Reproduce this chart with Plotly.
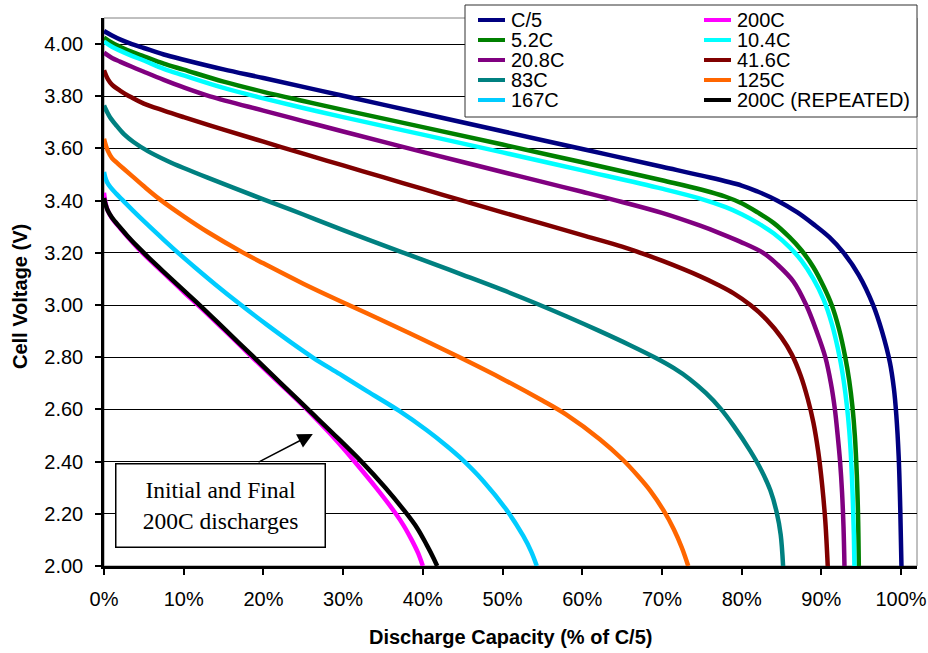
import plotly.graph_objects as go

# ---- discharge curves: capacity (% of C/5) vs cell voltage (V) ----
series_names = ["C/5", "200C", "5.2C", "10.4C", "20.8C",
                "41.6C", "83C", "125C", "167C", "200C (REPEATED)"]
series_colors = ["#000080", "#FF00FF", "#008000", "#00FFFF", "#800080",
                 "#800000", "#008080", "#FF6600", "#00CCFF", "#000000"]

cap_c5 = [0, 1, 2, 3.5, 5, 7.5, 10, 15, 20, 30, 40, 50, 60, 70, 75, 80, 82, 84.5,
          87, 89, 91, 92.8, 94.7, 96.5, 97.6, 98.6, 99.1, 99.4, 99.7, 99.9, 100.05]
v_c5 = [4.05, 4.033, 4.018, 4.0, 3.985, 3.96, 3.94, 3.903, 3.870, 3.802, 3.734,
        3.666, 3.598, 3.530, 3.496, 3.458, 3.435, 3.40, 3.355, 3.31, 3.26, 3.20,
        3.115, 3.00, 2.90, 2.78, 2.68, 2.58, 2.42, 2.22, 2.00]

cap_200 = [0, 0.2, 0.5, 1, 2, 3, 4.5, 6, 8, 10, 12, 15.4, 18.7, 22.2, 24, 26,
           28.3, 30, 31.3, 34, 36.5, 37.6, 38.6, 39.4, 40.0]
v_200 = [3.43, 3.39, 3.36, 3.333, 3.295, 3.26, 3.21, 3.165, 3.108, 3.05, 2.994,
         2.895, 2.797, 2.695, 2.643, 2.583, 2.51, 2.452, 2.405, 2.305, 2.205,
         2.155, 2.10, 2.05, 2.00]

cap_52 = [0, 1, 2, 3.5, 5, 7.5, 10, 15, 20, 25, 30, 40, 50, 60, 70, 75, 78, 80,
          82, 84, 86, 87.5, 89, 90.3, 91.3, 92.2, 93, 93.5, 93.9, 94.2, 94.45,
          94.6, 94.7]
v_52 = [4.025, 4.005, 3.99, 3.97, 3.953, 3.925, 3.902, 3.856, 3.817, 3.782, 3.748,
        3.682, 3.615, 3.547, 3.478, 3.442, 3.415, 3.39, 3.355, 3.315, 3.26, 3.21,
        3.145, 3.07, 3.00, 2.91, 2.80, 2.71, 2.61, 2.50, 2.35, 2.20, 2.00]

cap_104 = [0, 1, 2, 3.5, 5, 7.5, 10, 15, 20, 25, 30, 40, 50, 60, 70, 74.8, 78, 80,
           82, 84, 86, 87.5, 89, 90.3, 91.3, 92.3, 92.8, 93.2, 93.5, 93.75, 93.95,
           94.08, 94.15]
v_104 = [4.01, 3.99, 3.975, 3.955, 3.937, 3.905, 3.88, 3.832, 3.792, 3.755, 3.72,
         3.653, 3.585, 3.516, 3.446, 3.408, 3.375, 3.348, 3.315, 3.275, 3.222,
         3.17, 3.10, 3.02, 2.93, 2.80, 2.71, 2.615, 2.52, 2.40, 2.25, 2.12, 2.00]

cap_208 = [0, 1, 2, 3.5, 5, 7.5, 10, 13.3, 20, 25, 30, 37, 45, 50, 55, 60, 65, 70,
           74.8, 77.3, 79.8, 82.7, 84.5, 86.5, 88.1, 89.4, 90.5, 91.2, 91.7, 92.05,
           92.35, 92.6, 92.78, 92.9]
v_208 = [3.967, 3.947, 3.933, 3.913, 3.894, 3.863, 3.834, 3.80, 3.745, 3.705,
         3.665, 3.61, 3.548, 3.51, 3.472, 3.434, 3.395, 3.353, 3.304, 3.275, 3.243,
         3.20, 3.155, 3.09, 3.00, 2.90, 2.80, 2.70, 2.60, 2.50, 2.40, 2.28, 2.15,
         2.00]

cap_416 = [0, 0.5, 1, 2, 3.5, 5, 7.5, 10, 15, 20, 25, 30, 35, 40, 45, 50, 55,
           60, 65, 67.3, 70, 74.8, 77, 79, 81.1, 83.1, 85, 86.3, 87.4, 88.3, 89.0,
           89.6, 90.1, 90.5, 90.8]
v_416 = [3.90, 3.865, 3.845, 3.822, 3.795, 3.772, 3.745, 3.72, 3.672, 3.626, 3.58,
         3.535, 3.49, 3.445, 3.40, 3.355, 3.312, 3.268, 3.224, 3.20, 3.17, 3.11,
         3.078, 3.045, 3.00, 2.945, 2.875, 2.81, 2.73, 2.64, 2.55, 2.44, 2.31,
         2.17, 2.00]

cap_83 = [0, 0.3, 0.75, 1.5, 2.5, 3.7, 5.5, 7.9, 10, 13, 16.2, 20, 25, 30, 37,
          40, 45, 50, 54.3, 58, 62.2, 66, 69.3, 71.5, 73.5, 75.5, 77.3, 79, 81.1,
          82.5, 83.6, 84.4, 84.9, 85.2]
v_83 = [3.765, 3.745, 3.72, 3.69, 3.655, 3.625, 3.59, 3.553, 3.525, 3.488, 3.45,
        3.405, 3.347, 3.287, 3.207, 3.173, 3.116, 3.058, 3.005, 2.957, 2.90, 2.846,
        2.796, 2.758, 2.716, 2.663, 2.605, 2.537, 2.44, 2.365, 2.29, 2.205, 2.12,
        2.00]

cap_125 = [0, 0.25, 0.5, 1, 1.7, 2.4, 3.5, 5, 7, 10, 13, 17.5, 20, 25, 30.5, 35,
           40, 45, 50, 55, 58, 62.2, 65, 67, 68.5, 70.2, 71.5, 72.5, 73.3]
v_125 = [3.637, 3.61, 3.59, 3.563, 3.543, 3.524, 3.495, 3.455, 3.405, 3.34, 3.28,
         3.20, 3.16, 3.082, 3.003, 2.94, 2.868, 2.794, 2.717, 2.634, 2.58, 2.486,
         2.41, 2.345, 2.29, 2.213, 2.14, 2.07, 2.00]

cap_167 = [0, 0.15, 0.4, 0.8, 1.5, 2.4, 3.7, 5.5, 7.5, 9.3, 11.5, 14, 17.2, 20.5,
           23.5, 26.3, 29.6, 33, 37, 40.5, 43, 44.7, 47.6, 50.5, 52.6, 53.6, 54.3]
v_167 = [3.51, 3.49, 3.47, 3.452, 3.428, 3.40, 3.36, 3.307, 3.25, 3.20, 3.142,
         3.078, 3.00, 2.923, 2.856, 2.797, 2.735, 2.67, 2.595, 2.52, 2.46, 2.415,
         2.325, 2.215, 2.115, 2.055, 2.00]

cap_200r = [0, 0.2, 0.5, 1, 2, 3, 4.5, 6, 8, 10, 12, 15.4, 18.7, 22.2, 25.6, 29.0,
            32.3, 35.3, 37.6, 39.3, 40.5, 41.35, 41.8]
v_200r = [3.41, 3.385, 3.36, 3.335, 3.298, 3.263, 3.215, 3.17, 3.113, 3.056, 3.00,
          2.90, 2.803, 2.70, 2.60, 2.50, 2.40, 2.30, 2.215, 2.145, 2.08, 2.03, 2.00]

series_caps = [cap_c5, cap_200, cap_52, cap_104, cap_208,
               cap_416, cap_83, cap_125, cap_167, cap_200r]
series_volts = [v_c5, v_200, v_52, v_104, v_208,
                v_416, v_83, v_125, v_167, v_200r]

x_ticks = list(range(0, 101, 10))
x_tick_text = [f"{v}%" for v in x_ticks]
y_ticks = [round(2.0 + 0.2 * i, 1) for i in range(11)]

FONT = "Arial, 'Liberation Sans', sans-serif"
SERIF = "'Times New Roman', 'Liberation Serif', serif"

# plot-area geometry (pixels)
W, H = 928, 653
ML, MR, MT, MB = 104, 11, 18, 87
PW, PH = W - ML - MR, H - MT - MB


def px_x(px):
    return (px - ML) / PW


def px_y(py):
    return (MT + PH - py) / PH


fig = go.Figure()
for name, color, xs, ys in zip(series_names, series_colors, series_caps, series_volts):
    fig.add_trace(go.Scatter(
        x=xs, y=ys, mode="lines", name=name,
        line=dict(color=color, width=4.5, shape="spline", smoothing=1.0),
        showlegend=False, hoverinfo="skip",
    ))

shapes = []
annotations = []

# plot frame: light grey on top/right
shapes.append(dict(type="rect", xref="paper", yref="paper", x0=0, x1=1, y0=0, y1=1,
                   line=dict(color="#808080", width=1), layer="below"))

# legend box, two columns filled row by row
shapes.append(dict(type="rect", xref="paper", yref="paper",
                   x0=px_x(465), x1=px_x(917), y0=px_y(117), y1=px_y(5),
                   line=dict(color="#303030", width=1), fillcolor="white", layer="above"))
col_x = [(478, 505, 509), (704, 731, 735)]
for i, (name, color) in enumerate(zip(series_names, series_colors)):
    row, col = divmod(i, 2)
    x0, x1, xt = col_x[col]
    yy = px_y(20 + 20 * row)
    shapes.append(dict(type="line", xref="paper", yref="paper",
                       x0=px_x(x0), x1=px_x(x1), y0=yy, y1=yy,
                       line=dict(color=color, width=4), layer="above"))
    annotations.append(dict(xref="paper", yref="paper", x=px_x(xt), y=yy,
                            text=name, showarrow=False, xanchor="left", yanchor="middle",
                            font=dict(family=FONT, size=20, color="black")))

# callout box and arrow
annotations.append(dict(xref="x", yref="y", x=14.6, y=2.232,
                        text="Initial and Final<br>200C discharges", showarrow=False,
                        font=dict(family=SERIF, size=23.5, color="black"),
                        bgcolor="white", bordercolor="black", borderwidth=1.5,
                        borderpad=1, width=206, height=80, align="center"))
annotations.append(dict(xref="x", yref="y", axref="x", ayref="y",
                        x=26.2, y=2.506, ax=19.2, ay=2.395, text="",
                        showarrow=True, arrowhead=2, arrowsize=2, arrowwidth=1.5,
                        arrowcolor="black"))

# axis titles
annotations.append(dict(xref="paper", yref="paper", x=px_x(20), y=px_y(297),
                        text="<b>Cell Voltage (V)</b>", textangle=-90, showarrow=False,
                        xanchor="center", yanchor="middle",
                        font=dict(family=FONT, size=20, color="black")))
annotations.append(dict(xref="paper", yref="paper", x=px_x(510), y=px_y(637),
                        text="<b>Discharge Capacity (% of C/5)</b>", showarrow=False,
                        xanchor="center", yanchor="middle",
                        font=dict(family=FONT, size=20, color="black")))

fig.update_layout(
    template="none",
    width=W, height=H,
    margin=dict(l=ML, r=MR, t=MT, b=MB, pad=0),
    paper_bgcolor="white", plot_bgcolor="white",
    font=dict(family=FONT, size=20, color="black"),
    showlegend=False,
    shapes=shapes,
    annotations=annotations,
    xaxis=dict(range=[0, 102], tickmode="array", tickvals=x_ticks, ticktext=x_tick_text,
               showgrid=False, zeroline=False,
               showline=True, linecolor="black", linewidth=2.5,
               ticks="outside", ticklen=6, tickwidth=1.5, tickcolor="black",
               ticklabelstandoff=7,
               tickfont=dict(family=FONT, size=20, color="black")),
    yaxis=dict(range=[2.0, 4.1], tickmode="array", tickvals=y_ticks, tickformat=".2f",
               showgrid=True, gridcolor="black", gridwidth=1, zeroline=False,
               showline=True, linecolor="black", linewidth=2.5,
               ticks="outside", ticklen=6, tickwidth=1.5, tickcolor="black",
               ticklabelstandoff=8,
               tickfont=dict(family=FONT, size=20, color="black")),
)

fig.write_html("out.html")
